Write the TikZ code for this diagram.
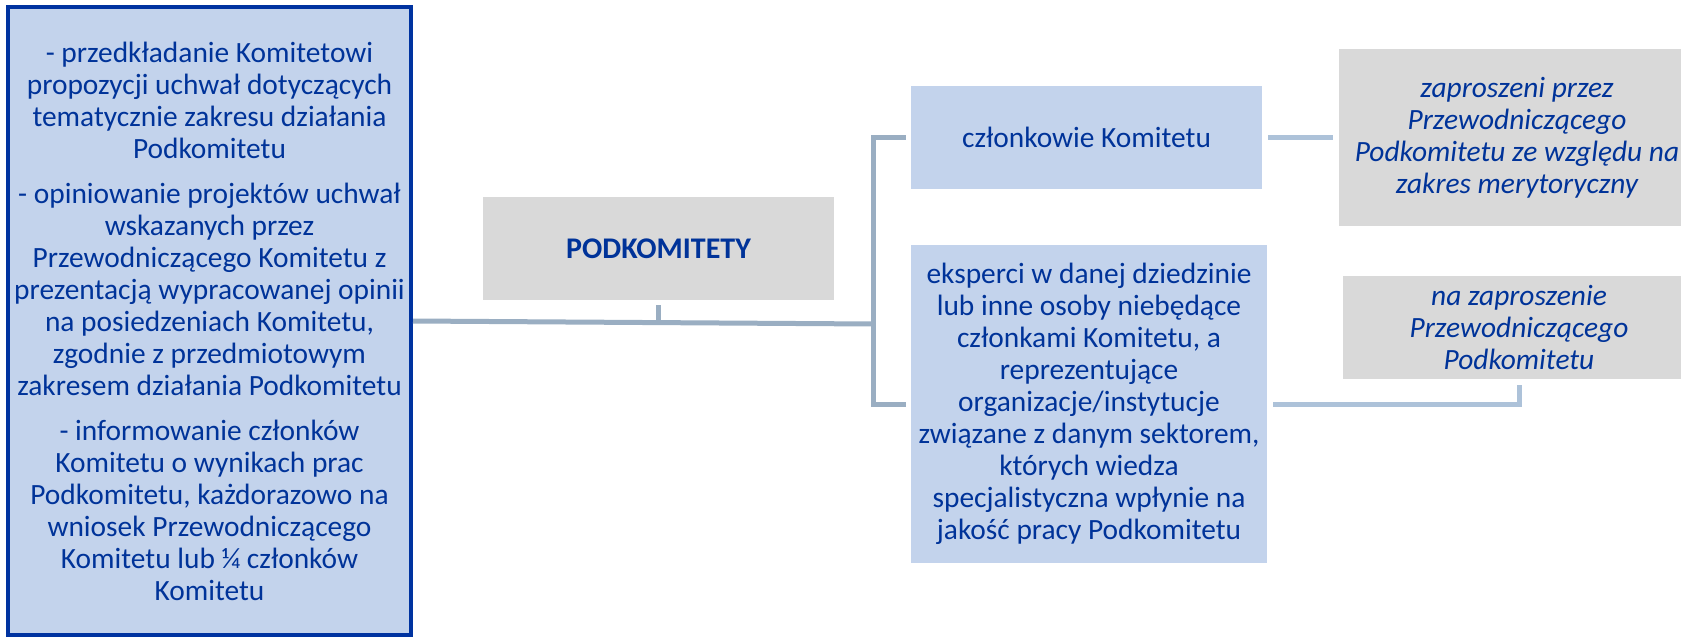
\documentclass[tikz,border=0pt]{standalone}
\usepackage{fontspec}
\setmainfont{Carlito}
\usetikzlibrary{positioning}
\definecolor{boxblue}{RGB}{195,211,236}
\definecolor{edgeblue}{RGB}{0,51,160}
\definecolor{txtblue}{RGB}{0,51,153}
\definecolor{boxgray}{RGB}{217,217,217}
\definecolor{trunkgray}{RGB}{154,174,194}
\definecolor{linkblue}{RGB}{173,194,217}
\def\px{0.5pt}
\newcommand{\boxfont}{\fontsize{14.7}{16}\selectfont\lineskiplimit=-20pt}
\tikzset{
  base/.style={inner sep=0pt, align=center, text=txtblue, font=\boxfont},
  bluebox/.style={base, fill=boxblue},
  graybox/.style={base, fill=boxgray, font=\boxfont\itshape},
  trunk/.style={draw=trunkgray, line width=2.5pt},
  link/.style={draw=linkblue, line width=2.5pt, shorten <=3pt, shorten >=3pt},
}
\begin{document}
\begin{tikzpicture}[x=\px, y=-\px]
    \useasboundingbox (0,0) rectangle (1681,637);
    \clip (0,0) rectangle (1681,637);

    \node[bluebox, draw=edgeblue, line width=2pt, minimum width=201.5pt, minimum height=314pt] (zadania) at (209.5,321)
      {- przedkładanie Komitetowi\\propozycji uchwał dotyczących\\tematycznie zakresu działania\\Podkomitetu\\[6.5pt]
       - opiniowanie projektów uchwał\\wskazanych przez\\Przewodniczącego Komitetu z\\prezentacją wypracowanej opinii\\na posiedzeniach Komitetu,\\zgodnie z przedmiotowym\\zakresem działania Podkomitetu\\[6.5pt]
       - informowanie członków\\Komitetu o wynikach prac\\Podkomitetu, każdorazowo na\\wniosek Przewodniczącego\\Komitetu lub ¼ członków\\Komitetu};
    \node[graybox, font=\fontsize{15}{17}\selectfont\bfseries, minimum width=175.5pt, minimum height=51.5pt] (podk) at (658.5,248.5) {PODKOMITETY};

    \node[bluebox, minimum width=175.5pt, minimum height=51.5pt] (czlonkowie) at (1086.5,137.5) {członkowie Komitetu};
    \node[bluebox, minimum width=178pt, minimum height=159pt] (eksperci) at (1089,404)
      {eksperci w danej dziedzinie\\lub inne osoby niebędące\\członkami Komitetu, a\\reprezentujące\\organizacje/instytucje\\związane z danym sektorem,\\których wiedza\\specjalistyczna wpłynie na\\jakość pracy Podkomitetu};

    \node[graybox, minimum width=178pt, minimum height=88.5pt] (zapr1) at (1517,137.5)
      {zaproszeni przez\\Przewodniczącego\\Podkomitetu ze względu na\\zakres merytoryczny};
    \node[graybox, minimum width=176pt, minimum height=51.5pt] (zapr2) at (1519,327.5)
      {na zaproszenie\\Przewodniczącego\\Podkomitetu};

    \coordinate (hub) at (873,324);
    \draw[trunk] (zadania.east) -- (hub);
    \draw[trunk, shorten <=2.5pt] (podk.south) -- (podk.south |- hub);
    \draw[trunk, shorten <=2.5pt, shorten >=2.5pt] (czlonkowie.west) -| (hub) |- (eksperci.west);

    \draw[link] (czlonkowie.east) -- (zapr1.west);
    \draw[link] (eksperci.east) -| (zapr2.south);
\end{tikzpicture}
\end{document}
